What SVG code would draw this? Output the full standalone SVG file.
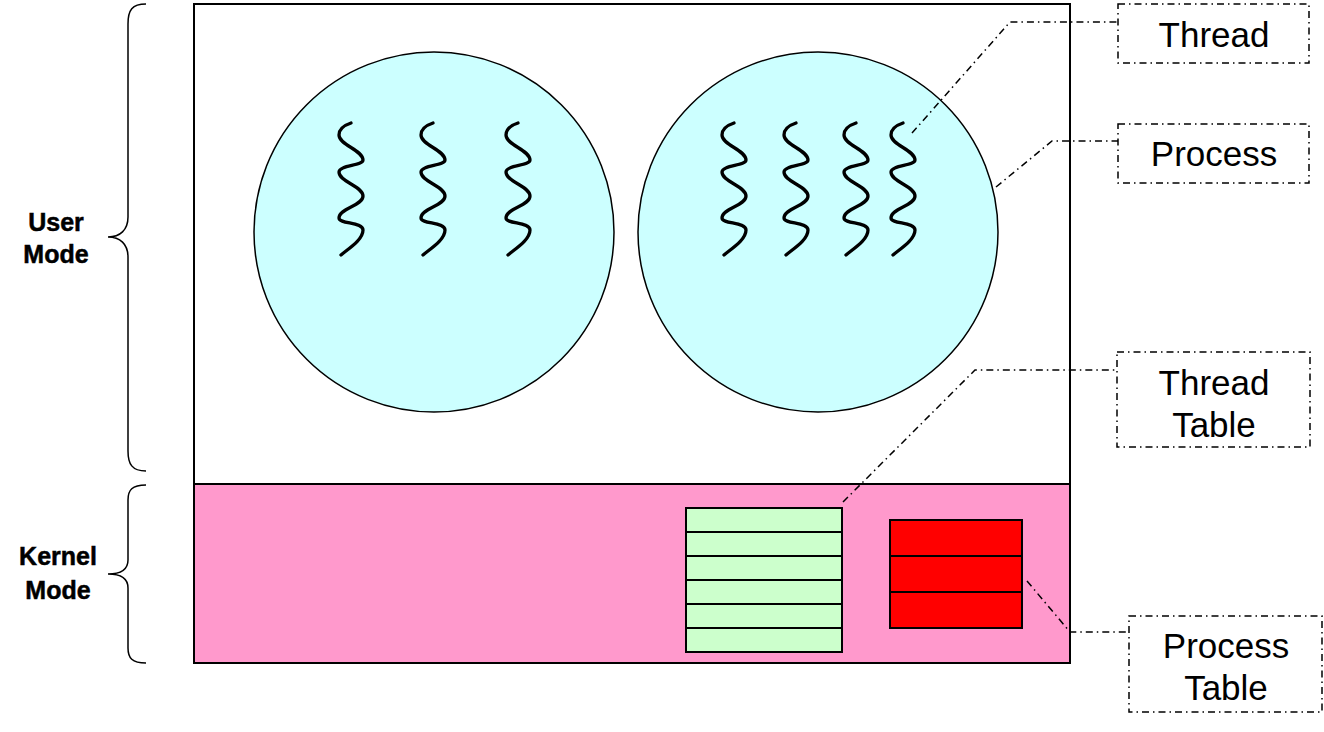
<svg xmlns="http://www.w3.org/2000/svg" xmlns:xlink="http://www.w3.org/1999/xlink" width="1324" height="732" viewBox="0 0 1324 732">
<style>
.frame{stroke:#000;stroke-width:2}
.proc{fill:#CCFFFF;stroke:#000;stroke-width:1.5}
.thr{fill:none;stroke:#000;stroke-width:3.3;stroke-linecap:round}
.lbl{fill:#fff;stroke:#000;stroke-width:1.5;stroke-dasharray:7 4 1.5 4}
.conn{fill:none;stroke:#000;stroke-width:1.5;stroke-dasharray:7 4 1.5 4}
.brace{fill:none;stroke:#000;stroke-width:1.5}
.t{font-family:"Liberation Sans",Arial,sans-serif;font-size:35px;fill:#000;text-anchor:middle}
.b{font-family:"Liberation Sans",Arial,sans-serif;font-size:25px;font-weight:bold;fill:#000;text-anchor:middle;stroke:#000;stroke-width:0.5}
.tbl{stroke:#000;stroke-width:2}
</style>
<defs>
<path id="squiggle" d="M351,123 C345,125 339,129 339,135 C339,145 363,150 363,160 C363,166 339,165 339,172 C339,182 363,186 363,196 C363,206 339,208 339,218 C339,224 363,222 363,230 C363,240 348,249 341,255"/>
</defs>

<g id="user-space"><rect x="194" y="4" width="876" height="480" fill="#fff" class="frame"/></g>
<g id="kernel-space"><rect x="194" y="484" width="876" height="179" fill="#FF99CC" class="frame"/></g>

<g id="process1">
<circle cx="434" cy="232" r="180" class="proc"/>
<use xlink:href="#squiggle" class="thr"/>
<use xlink:href="#squiggle" class="thr" transform="translate(82,0)"/>
<use xlink:href="#squiggle" class="thr" transform="translate(167,0)"/>
</g>
<g id="process2">
<circle cx="818" cy="232" r="180" class="proc"/>
<use xlink:href="#squiggle" class="thr" transform="translate(383,0)"/>
<use xlink:href="#squiggle" class="thr" transform="translate(445,0)"/>
<use xlink:href="#squiggle" class="thr" transform="translate(505,0)"/>
<use xlink:href="#squiggle" class="thr" transform="translate(552,0)"/>
</g>

<g id="thread-table">
<rect x="686" y="508" width="156" height="144" fill="#CCFFCC" class="tbl"/>
<path d="M686,532H842M686,556H842M686,580H842M686,604H842M686,628H842" class="tbl"/>
</g>
<g id="process-table">
<rect x="890" y="520" width="132" height="108" fill="#FF0000" class="tbl"/>
<path d="M890,556H1022M890,592H1022" class="tbl"/>
</g>

<g id="connectors">
<path class="conn" d="M912,133 L1010,22 L1118,22"/>
<path class="conn" d="M996,187 L1052,141 L1118,141"/>
<path class="conn" d="M843,502 L975,370 L1117,370"/>
<path class="conn" d="M1027,581 L1070,632 L1129,632"/>
</g>

<g id="label-thread">
<rect x="1118" y="4" width="191" height="59" class="lbl"/>
<text x="1214" y="47" class="t">Thread</text>
</g>
<g id="label-process">
<rect x="1118" y="124" width="191" height="59" class="lbl"/>
<text x="1214" y="166" class="t">Process</text>
</g>
<g id="label-thread-table">
<rect x="1117" y="352" width="193" height="95" class="lbl"/>
<text x="1214" y="395" class="t">Thread</text>
<text x="1214" y="437" class="t">Table</text>
</g>
<g id="label-process-table">
<rect x="1129" y="616" width="193" height="96" class="lbl"/>
<text x="1226" y="658" class="t">Process</text>
<text x="1226" y="700" class="t">Table</text>
</g>

<g id="user-mode">
<path class="brace" d="M146,4 C132,4 128,10 128,24 L128,217 C128,230 120,237 108,237 C120,237 128,244 128,257 L128,451 C128,464 132,471 146,471"/>
<text x="56" y="231" class="b">User</text>
<text x="56" y="263" class="b">Mode</text>
</g>
<g id="kernel-mode">
<path class="brace" d="M146,485 C132,485 128,490 128,500 L128,560 C128,570 120,574 108,574 C120,574 128,578 128,588 L128,648 C128,658 132,663 146,663"/>
<text x="58" y="565" class="b">Kernel</text>
<text x="58" y="599" class="b">Mode</text>
</g>
</svg>
